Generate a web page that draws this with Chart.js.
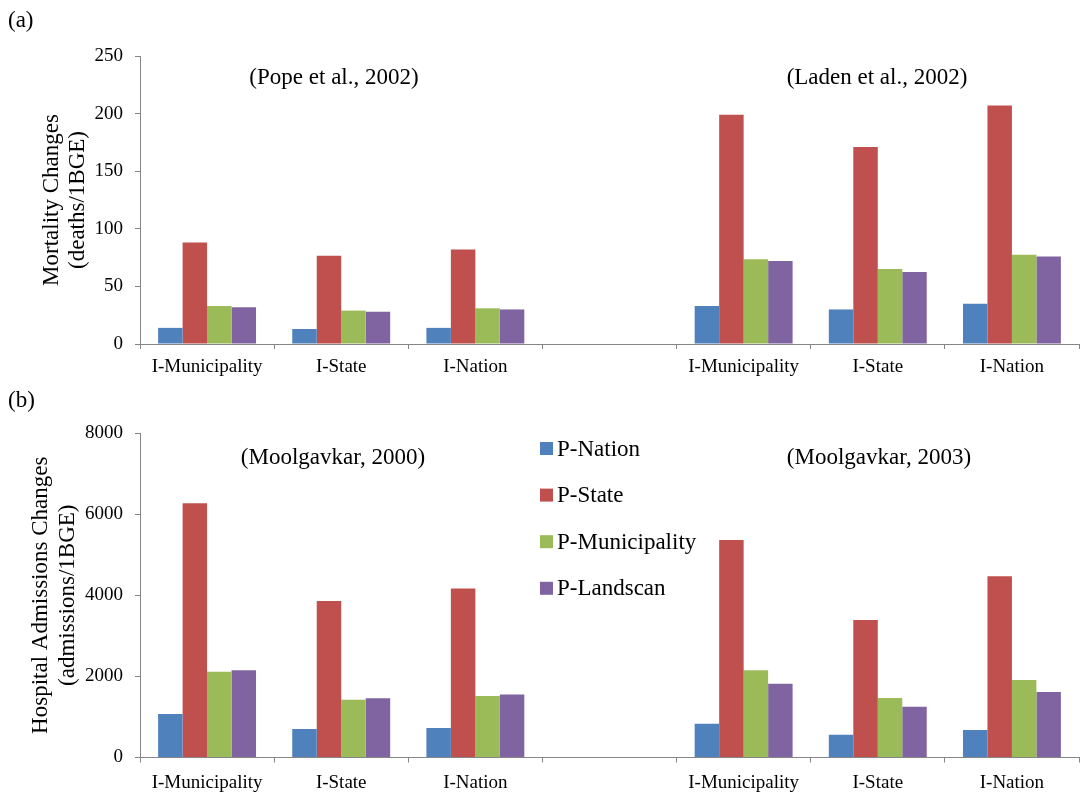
<!DOCTYPE html>
<html>
<head>
<meta charset="utf-8">
<script src="https://cdn.jsdelivr.net/npm/chart.js@4"></script>
<style>
html,body{margin:0;padding:0;background:#fff;}
#wrap{position:relative;width:1080px;height:795px;overflow:hidden;}
canvas{position:absolute;left:0;}
#ca{top:0;}
#cb{top:395px;}
.plabel{position:absolute;left:8px;font-family:"Liberation Serif",serif;font-size:23px;line-height:26px;color:#000;}
</style>
</head>
<body>
<div id="wrap">
<canvas id="ca" width="1080" height="395"></canvas>
<canvas id="cb" width="1080" height="400"></canvas>
<div class="plabel" style="top:7px">(a)</div>
<div class="plabel" style="top:387px">(b)</div>
</div>
<script>
// ---- data ----
const categories = ["I-Municipality", "I-State", "I-Nation", "", "I-Municipality", "I-State", "I-Nation"];
const seriesNames = ["P-Nation", "P-State", "P-Municipality", "P-Landscan"];

// Panel (a): Mortality changes (deaths/1BGE)
const mortNation       = [14, 13, 14, null, 33, 30, 35];
const mortState        = [88, 76.5, 82, null, 199, 171, 207];
const mortMunicipality = [33, 29, 31, null, 73.5, 65, 77.5];
const mortLandscan     = [32, 28, 30, null, 72, 62.5, 76];
const mortTicks = [0, 50, 100, 150, 200, 250];

// Panel (b): Hospital admissions changes (admissions/1BGE)
const hospNation       = [1070, 700, 730, null, 830, 560, 675];
const hospState        = [6270, 3860, 4165, null, 5365, 3390, 4470];
const hospMunicipality = [2115, 1425, 1515, null, 2150, 1465, 1910];
const hospLandscan     = [2150, 1460, 1555, null, 1820, 1250, 1615];
const hospTicks = [0, 2000, 4000, 6000, 8000];

const studyLabelsA = ["(Pope et al., 2002)", "(Laden et al., 2002)"];
const studyLabelsB = ["(Moolgavkar, 2000)", "(Moolgavkar, 2003)"];

// ---- styling ----
const colors = ["#4F81BD", "#C0504D", "#9BBB59", "#8064A2"];
const FAM = '"Liberation Serif", "Times New Roman", serif';
const AXIS = "#868686";

const notesPlugin = {
  id: "notes",
  afterDraw(chart, args, opts) {
    const ctx = chart.ctx;
    ctx.save();
    ctx.font = '23px ' + FAM;
    ctx.fillStyle = "#000";
    ctx.textAlign = "center";
    ctx.textBaseline = "middle";
    (opts.notes || []).forEach(n => ctx.fillText(n.text, n.x, n.y));
    if (opts.legend) {
      const L = opts.legend;
      chart.data.datasets.forEach((ds, i) => {
        const y = L.y + i * L.gap;
        ctx.fillStyle = ds.backgroundColor;
        ctx.fillRect(L.x, y - 6.5, 13, 13);
        ctx.fillStyle = "#000";
        ctx.textAlign = "left";
        ctx.fillText(ds.label, L.x + 17, y + 1);
      });
    }
    ctx.restore();
  }
};

function makeDatasets(arrs) {
  return arrs.map((d, i) => ({
    label: seriesNames[i],
    data: d,
    backgroundColor: colors[i],
    borderWidth: 0,
    categoryPercentage: 0.73,
    barPercentage: 1.0
  }));
}

function makeChart(canvasId, arrs, yTicks, yTitle, titleFont, titlePad, layoutPad, xHeight, xPad, notes, legend) {
  const maxV = yTicks[yTicks.length - 1];
  const step = yTicks[1] - yTicks[0];
  return new Chart(document.getElementById(canvasId), {
    type: "bar",
    data: { labels: categories, datasets: makeDatasets(arrs) },
    options: {
      responsive: false,
      animation: false,
      devicePixelRatio: 1,
      layout: { padding: layoutPad },
      plugins: {
        legend: { display: false },
        tooltip: { enabled: false },
        notes: { notes: notes, legend: legend }
      },
      scales: {
        x: {
          type: "category",
          offset: true,
          ticks: { color: "#000", font: { family: FAM, size: 19 }, padding: xPad, maxRotation: 0, autoSkip: false },
          grid: { offset: true, drawOnChartArea: false, drawTicks: true, tickLength: 5, color: AXIS },
          border: { color: AXIS, width: 1 },
          afterFit(s) { s.height = xHeight; }
        },
        y: {
          min: 0, max: maxV,
          ticks: { stepSize: step, color: "#000", font: { family: FAM, size: 19 }, padding: 12,
                   callback: v => String(v) },
          grid: { drawOnChartArea: false, drawTicks: true, tickLength: 5, color: AXIS },
          border: { color: AXIS, width: 1 },
          title: { display: true, text: yTitle, color: "#000", font: titleFont, padding: { top: titlePad, bottom: 0 } },
          afterFit(s) { s.width = 140; }
        }
      }
    },
    plugins: [notesPlugin]
  });
}

makeChart("ca",
  [mortNation, mortState, mortMunicipality, mortLandscan],
  mortTicks,
  ["Mortality Changes", "(deaths/1BGE)"],
  { family: FAM, size: 23, lineHeight: 1.12 }, 39,
  { left: 0, right: 1, top: 56, bottom: 11 }, 40, 7,
  [{ text: studyLabelsA[0], x: 334, y: 78 }, { text: studyLabelsA[1], x: 877, y: 78 }],
  null);

makeChart("cb",
  [hospNation, hospState, hospMunicipality, hospLandscan],
  hospTicks,
  ["Hospital Admissions Changes", "(admissions/1BGE)"],
  { family: FAM, size: 23, lineHeight: 1.2 }, 27,
  { left: 0, right: 1, top: 38, bottom: 0 }, 37.5, 9,
  [{ text: studyLabelsB[0], x: 333, y: 63 }, { text: studyLabelsB[1], x: 879, y: 63 }],
  { x: 540, y: 53.5, gap: 46.6 });
</script>
</body>
</html>
